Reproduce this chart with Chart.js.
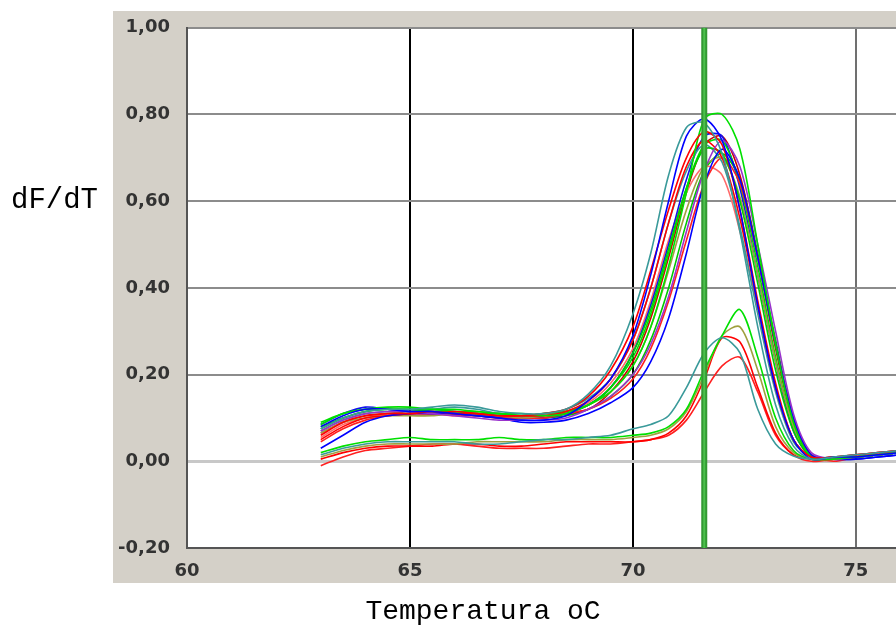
<!DOCTYPE html>
<html>
<head>
<meta charset="utf-8">
<script src="https://cdn.jsdelivr.net/npm/chart.js@4/dist/chart.umd.min.js"></script>
<style>
  html, body { margin: 0; padding: 0; background: #fff; }
  #wrap { width: 896px; height: 632px; }
</style>
</head>
<body>
<div id="wrap"><canvas id="meltChart" width="896" height="632"></canvas></div>
<script>
// temperatures shared by all curves (oC)
const temps = [63, 63.5, 64, 64.5, 65, 65.5, 66, 66.5, 67, 67.5, 68, 68.5, 69, 69.5, 70, 70.4, 70.8, 71.2, 71.6, 72.0, 72.4, 72.8, 73.2, 73.6, 74.0, 74.5, 75, 75.5, 76];

const yTicks = [-0.2, 0, 0.2, 0.4, 0.6, 0.8, 1.0];
const xTicks = [60, 65, 70, 75];
const markerTemp = 71.6;

// main group of melt curves (dF/dT)
const curveA = [0.075, 0.10, 0.115, 0.12, 0.12, 0.125, 0.13, 0.125, 0.115, 0.11, 0.11, 0.12, 0.155, 0.22, 0.34, 0.48, 0.66, 0.77, 0.78, 0.71, 0.53, 0.31, 0.13, 0.035, 0.005, 0.01, 0.015, 0.02, 0.025];
const curveB = [0.08, 0.105, 0.12, 0.12, 0.115, 0.115, 0.11, 0.105, 0.10, 0.095, 0.095, 0.105, 0.14, 0.19, 0.29, 0.43, 0.60, 0.75, 0.79, 0.74, 0.58, 0.36, 0.17, 0.05, 0.005, 0.01, 0.01, 0.015, 0.02];
const curveC = [0.06, 0.09, 0.105, 0.11, 0.11, 0.115, 0.11, 0.11, 0.105, 0.105, 0.11, 0.12, 0.15, 0.21, 0.31, 0.44, 0.58, 0.70, 0.76, 0.73, 0.58, 0.37, 0.18, 0.05, 0.01, 0.01, 0.015, 0.02, 0.025];
const curveD = [0.085, 0.11, 0.12, 0.125, 0.125, 0.12, 0.12, 0.115, 0.11, 0.11, 0.105, 0.11, 0.13, 0.16, 0.22, 0.31, 0.45, 0.62, 0.79, 0.80, 0.72, 0.50, 0.27, 0.09, 0.01, 0.005, 0.01, 0.015, 0.02];
const curveE = [0.07, 0.095, 0.11, 0.115, 0.115, 0.11, 0.105, 0.10, 0.095, 0.095, 0.095, 0.10, 0.12, 0.15, 0.20, 0.27, 0.38, 0.53, 0.67, 0.74, 0.68, 0.50, 0.30, 0.11, 0.02, 0.005, 0.01, 0.015, 0.02];
const curveF = [0.03, 0.06, 0.09, 0.105, 0.11, 0.11, 0.11, 0.105, 0.10, 0.09, 0.09, 0.095, 0.11, 0.135, 0.17, 0.23, 0.33, 0.48, 0.64, 0.72, 0.65, 0.47, 0.27, 0.10, 0.015, 0.005, 0.005, 0.01, 0.015];
const curveG = [0.05, 0.08, 0.10, 0.105, 0.11, 0.11, 0.115, 0.11, 0.105, 0.105, 0.105, 0.115, 0.14, 0.19, 0.28, 0.40, 0.55, 0.68, 0.74, 0.70, 0.56, 0.36, 0.17, 0.05, 0.01, 0.01, 0.015, 0.02, 0.025];
const curveH = [0.08, 0.10, 0.115, 0.12, 0.12, 0.115, 0.115, 0.11, 0.11, 0.105, 0.11, 0.115, 0.13, 0.17, 0.25, 0.35, 0.49, 0.63, 0.72, 0.71, 0.60, 0.41, 0.21, 0.07, 0.01, 0.005, 0.01, 0.015, 0.02];
const curveI = [0.065, 0.09, 0.10, 0.105, 0.105, 0.105, 0.11, 0.105, 0.105, 0.10, 0.105, 0.115, 0.13, 0.16, 0.22, 0.31, 0.44, 0.58, 0.68, 0.70, 0.61, 0.43, 0.23, 0.08, 0.01, 0.005, 0.01, 0.015, 0.02];
const curveJ = [0.07, 0.095, 0.11, 0.115, 0.115, 0.12, 0.125, 0.12, 0.11, 0.105, 0.11, 0.12, 0.145, 0.19, 0.28, 0.40, 0.55, 0.67, 0.73, 0.69, 0.54, 0.34, 0.16, 0.045, 0.01, 0.01, 0.01, 0.015, 0.02];
const curveK = [0.045, 0.075, 0.095, 0.105, 0.11, 0.11, 0.105, 0.105, 0.10, 0.10, 0.10, 0.11, 0.12, 0.145, 0.19, 0.26, 0.37, 0.51, 0.64, 0.70, 0.64, 0.47, 0.27, 0.10, 0.015, 0.0, 0.01, 0.015, 0.02];
const curveL = [0.09, 0.11, 0.12, 0.12, 0.12, 0.12, 0.115, 0.115, 0.11, 0.105, 0.105, 0.115, 0.13, 0.17, 0.24, 0.34, 0.48, 0.63, 0.73, 0.74, 0.64, 0.45, 0.24, 0.08, 0.01, 0.005, 0.01, 0.015, 0.025];
const curveM = [0.085, 0.11, 0.125, 0.12, 0.115, 0.115, 0.115, 0.11, 0.105, 0.10, 0.10, 0.11, 0.13, 0.17, 0.25, 0.36, 0.50, 0.65, 0.75, 0.75, 0.63, 0.43, 0.23, 0.07, 0.01, 0.005, 0.005, 0.01, 0.015];
const curveN = [0.055, 0.085, 0.10, 0.11, 0.11, 0.11, 0.11, 0.11, 0.11, 0.105, 0.105, 0.115, 0.135, 0.18, 0.26, 0.37, 0.51, 0.62, 0.68, 0.66, 0.53, 0.35, 0.17, 0.05, 0.01, 0.01, 0.015, 0.02, 0.025];
const curveO = [0.065, 0.09, 0.105, 0.11, 0.115, 0.115, 0.11, 0.105, 0.10, 0.10, 0.10, 0.11, 0.12, 0.16, 0.23, 0.33, 0.47, 0.62, 0.73, 0.75, 0.66, 0.47, 0.26, 0.09, 0.01, 0.005, 0.01, 0.015, 0.025];
const curveP = [0.075, 0.10, 0.115, 0.12, 0.115, 0.115, 0.11, 0.11, 0.105, 0.10, 0.10, 0.105, 0.12, 0.15, 0.20, 0.28, 0.40, 0.55, 0.67, 0.71, 0.65, 0.48, 0.28, 0.10, 0.015, 0.005, 0.01, 0.015, 0.02];

// low group of melt curves
const curveQ = [0.015, 0.03, 0.04, 0.045, 0.045, 0.045, 0.045, 0.04, 0.04, 0.045, 0.05, 0.05, 0.055, 0.06, 0.075, 0.085, 0.105, 0.17, 0.25, 0.285, 0.25, 0.12, 0.04, 0.012, 0.005, 0.01, 0.01, 0.015, 0.02];
const curveR = [0.02, 0.035, 0.045, 0.05, 0.055, 0.05, 0.05, 0.05, 0.055, 0.05, 0.05, 0.055, 0.055, 0.055, 0.06, 0.065, 0.08, 0.12, 0.21, 0.29, 0.35, 0.24, 0.10, 0.025, 0.005, 0.005, 0.01, 0.015, 0.02];
const curveS = [0.01, 0.025, 0.035, 0.04, 0.04, 0.04, 0.04, 0.045, 0.045, 0.045, 0.045, 0.05, 0.05, 0.05, 0.055, 0.06, 0.075, 0.115, 0.20, 0.29, 0.31, 0.21, 0.08, 0.02, 0.005, 0.005, 0.01, 0.015, 0.02];
const curveT = [0.005, 0.02, 0.03, 0.035, 0.035, 0.035, 0.04, 0.04, 0.035, 0.035, 0.04, 0.045, 0.045, 0.045, 0.045, 0.05, 0.065, 0.105, 0.19, 0.285, 0.275, 0.17, 0.065, 0.015, 0.005, 0.005, 0.01, 0.015, 0.02];
const curveU = [-0.01, 0.01, 0.025, 0.03, 0.035, 0.04, 0.04, 0.035, 0.03, 0.03, 0.03, 0.035, 0.04, 0.04, 0.045, 0.05, 0.06, 0.095, 0.16, 0.22, 0.24, 0.16, 0.06, 0.015, 0.0, 0.005, 0.01, 0.015, 0.025];

const curves = [
  { values: curveA, color: '#3a9a9a' },
  { values: curveB, color: '#0000ff' },
  { values: curveC, color: '#ff0000' },
  { values: curveD, color: '#00e000' },
  { values: curveE, color: '#9933cc' },
  { values: curveF, color: '#0000ff' },
  { values: curveG, color: '#ff0000' },
  { values: curveH, color: '#00d000' },
  { values: curveI, color: '#a0a040' },
  { values: curveJ, color: '#3a9a9a' },
  { values: curveK, color: '#ff2020' },
  { values: curveL, color: '#00e000' },
  { values: curveM, color: '#1010ee' },
  { values: curveN, color: '#ff6a6a' },
  { values: curveO, color: '#cc0000' },
  { values: curveP, color: '#00c800' },
  { values: curveQ, color: '#3a9a9a' },
  { values: curveR, color: '#00e000' },
  { values: curveS, color: '#a0a040' },
  { values: curveT, color: '#ff0000' },
  { values: curveU, color: '#ff2020' }
];

const datasets = curves.map(c => ({
  data: temps.map((t, i) => ({ x: t, y: c.values[i] })),
  borderColor: c.color,
  borderWidth: 1.6,
  pointRadius: 0,
  tension: 0.3,
  fill: false
}));

const tickFont = { family: 'DejaVu Sans', size: 18, weight: 'bold' };

// grey panel, marker line and axis captions
const framePlugin = {
  id: 'frame',
  beforeDraw(chart) {
    const { ctx, chartArea } = chart;
    ctx.save();
    ctx.fillStyle = '#ffffff';
    ctx.fillRect(0, 0, chart.width, chart.height);
    ctx.fillStyle = '#d4d0c8';
    ctx.fillRect(113, 11, chart.width - 113, 572);
    ctx.fillStyle = '#ffffff';
    ctx.fillRect(chartArea.left, chartArea.top, chartArea.right - chartArea.left, chartArea.bottom - chartArea.top);
    ctx.restore();
  },
  afterDatasetsDraw(chart) {
    const { ctx, chartArea, scales } = chart;
    const x = scales.x.getPixelForValue(markerTemp);
    ctx.save();
    ctx.fillStyle = '#339933';
    ctx.fillRect(x - 3, chartArea.top, 6, chartArea.bottom - chartArea.top);
    ctx.fillStyle = '#4cc04c';
    ctx.fillRect(x - 1, chartArea.top, 2, chartArea.bottom - chartArea.top);
    ctx.restore();
  },
  afterDraw(chart) {
    const { ctx } = chart;
    ctx.save();
    ctx.fillStyle = '#000';
    ctx.font = '29px "Liberation Mono"';
    ctx.textAlign = 'left';
    ctx.textBaseline = 'alphabetic';
    ctx.fillText('dF/dT', 11, 208);
    ctx.font = '28px "Liberation Mono"';
    ctx.textAlign = 'center';
    ctx.fillText('Temperatura oC', 483, 619);
    ctx.restore();
  }
};

new Chart(document.getElementById('meltChart'), {
  type: 'line',
  data: { datasets },
  plugins: [framePlugin],
  options: {
    responsive: false,
    animation: false,
    layout: { padding: { top: 24, right: 0, left: 0, bottom: 0 } },
    plugins: { legend: { display: false }, tooltip: { enabled: false } },
    scales: {
      x: {
        type: 'linear',
        min: 60,
        max: 75.9,
        afterFit: (scale) => { scale.height = 84; },
        afterBuildTicks: (scale) => { scale.ticks = xTicks.map(v => ({ value: v })); },
        ticks: { padding: 13, color: '#333', font: tickFont, includeBounds: false },
        grid: {
          drawTicks: false,
          lineWidth: 2,
          color: (ctx) => (ctx.tick && ctx.tick.value === 75 ? '#707070' : '#000000')
        },
        border: { color: '#555555', width: 2 }
      },
      y: {
        min: -0.2,
        max: 1.0,
        afterFit: (scale) => { scale.width = 187; },
        afterBuildTicks: (scale) => { scale.ticks = yTicks.map(v => ({ value: v })); },
        ticks: {
          padding: 17,
          color: '#333',
          font: tickFont,
          callback: (v) => Number(v).toFixed(2).replace('.', ',')
        },
        grid: {
          drawTicks: false,
          lineWidth: (ctx) => (ctx.tick && Math.abs(ctx.tick.value) < 1e-9 ? 3 : 2),
          color: (ctx) => (ctx.tick && Math.abs(ctx.tick.value) < 1e-9 ? '#c8c8c8' : '#8c8c8c')
        },
        border: { color: '#555555', width: 2 }
      }
    }
  }
});
</script>
</body>
</html>
